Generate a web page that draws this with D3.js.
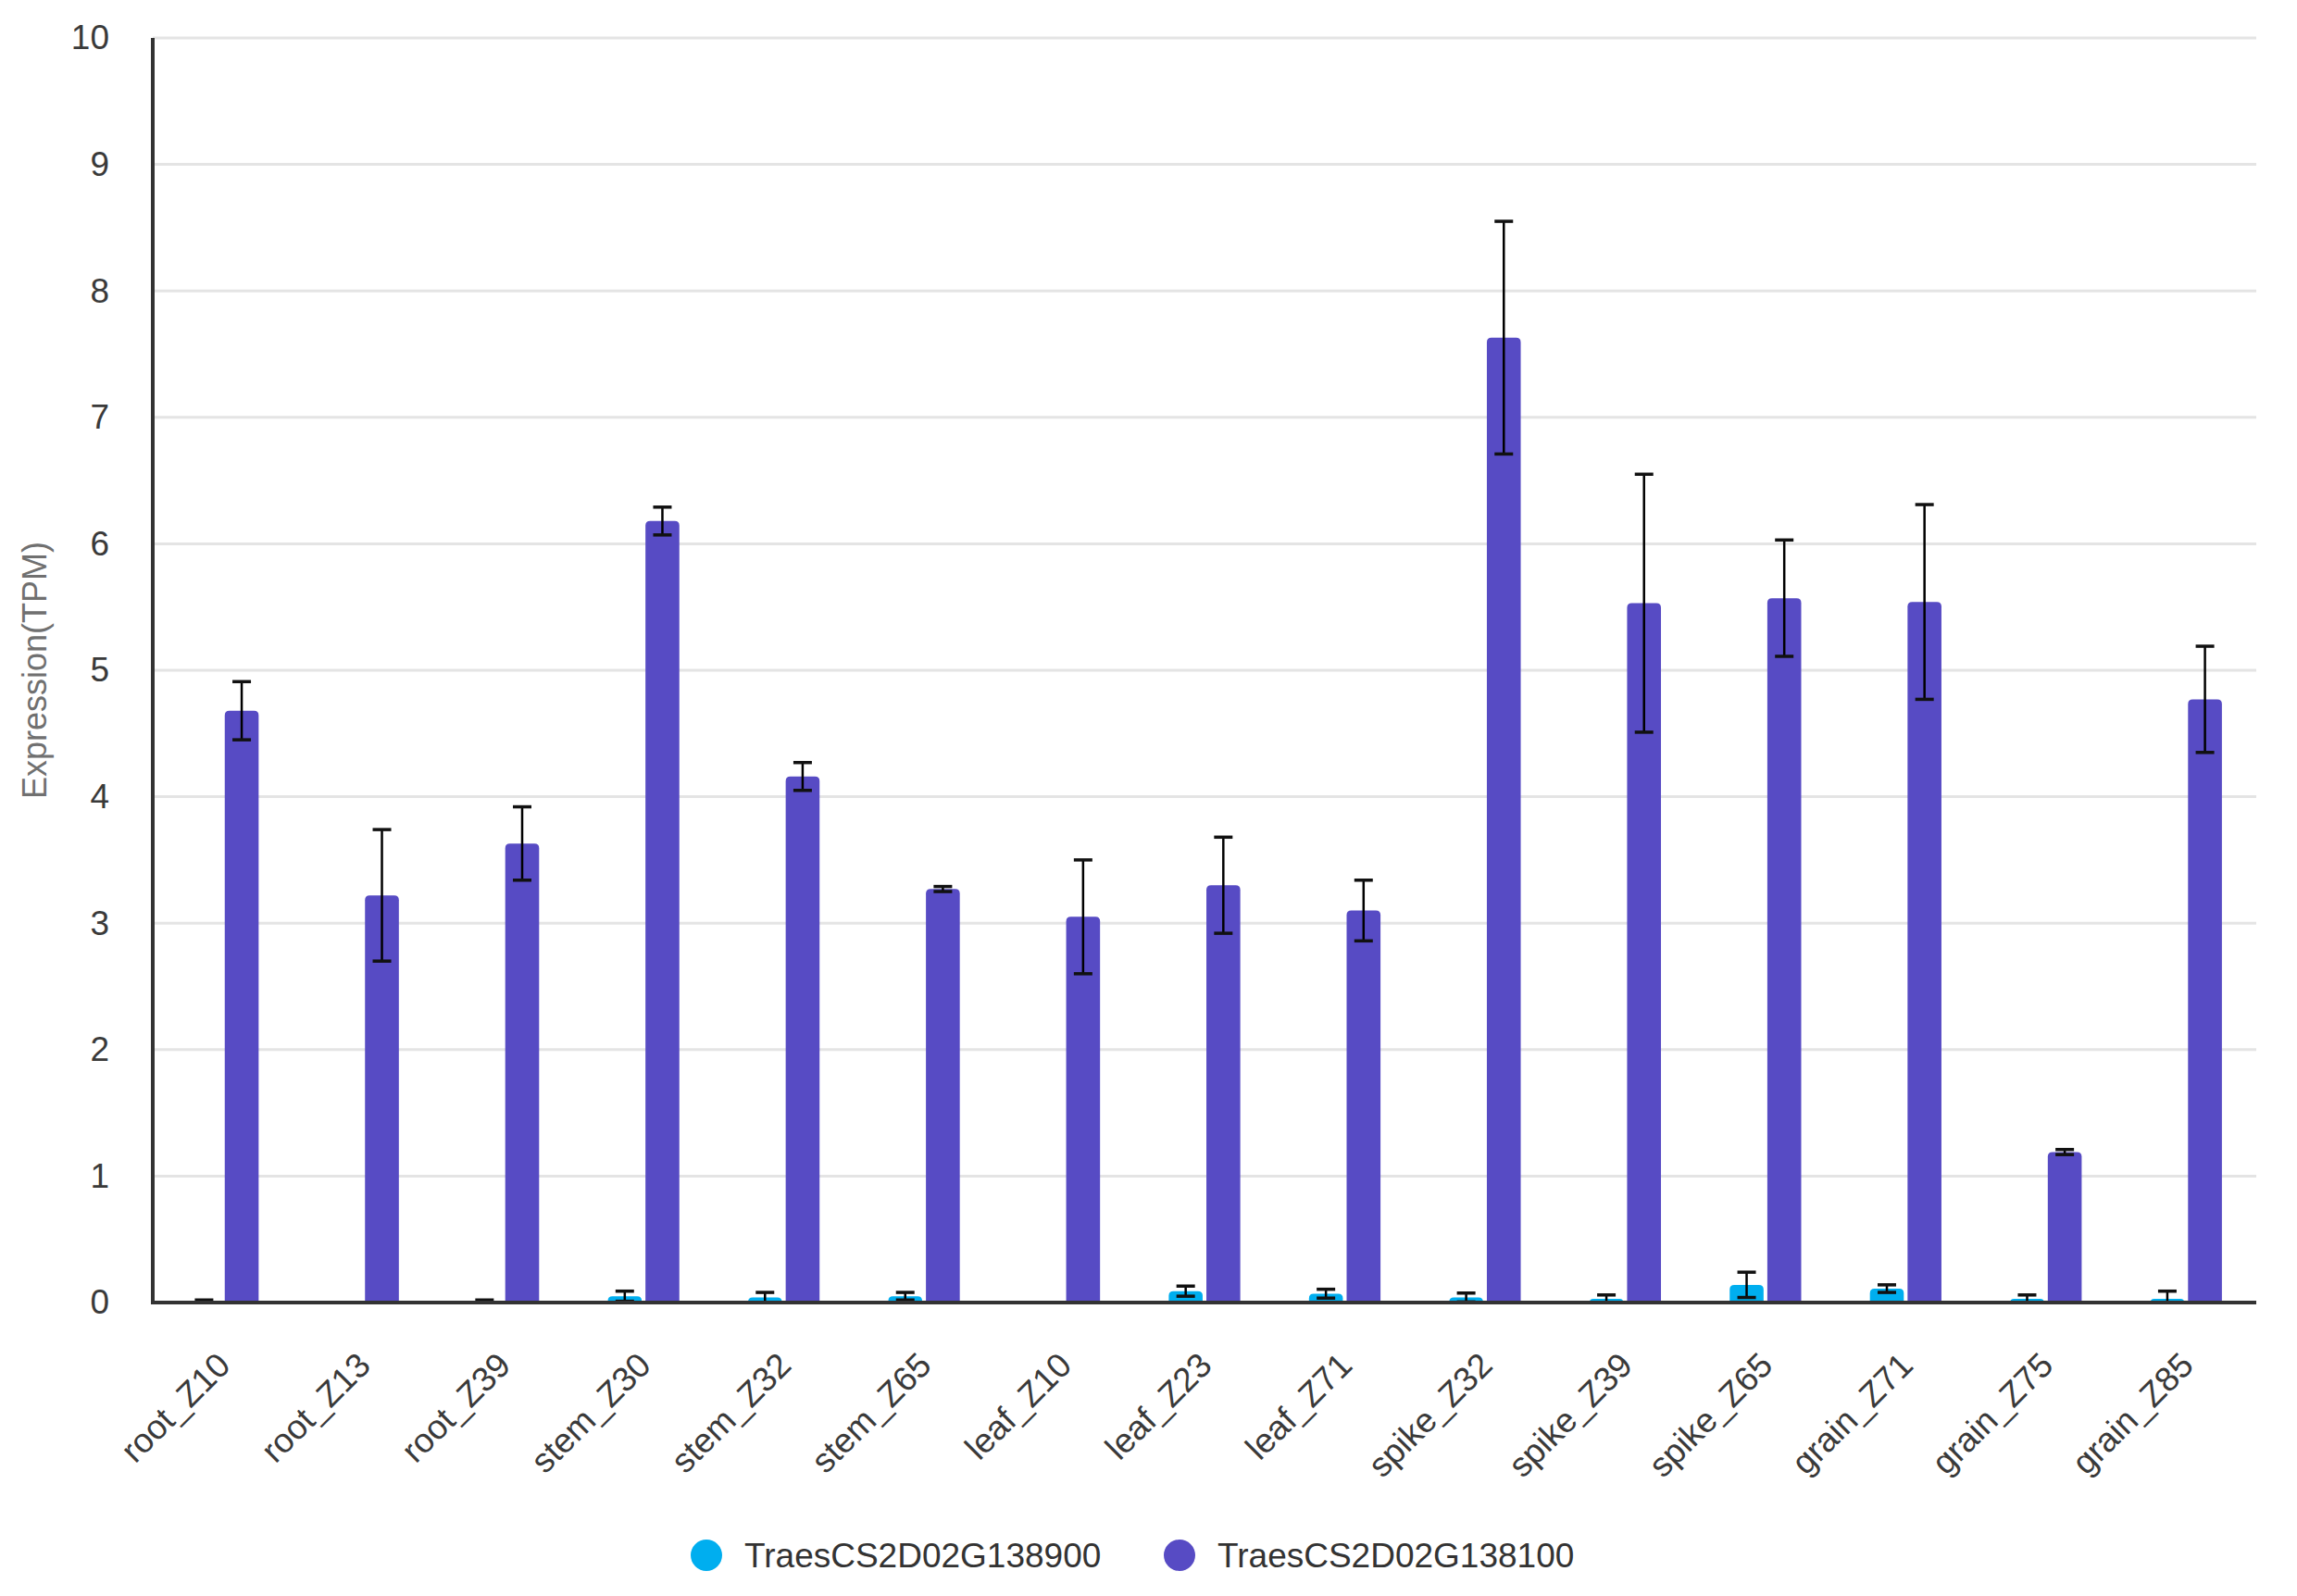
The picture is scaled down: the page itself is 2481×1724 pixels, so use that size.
<!DOCTYPE html>
<html lang="en">
<head>
<meta charset="UTF-8">
<title>Expression (TPM)</title>
<script src="https://d3js.org/d3.v7.min.js"></script>
<style>
  html, body { margin: 0; padding: 0; background: #fff; }
  body { font-family: "Liberation Sans", Arial, sans-serif; }
</style>
</head>
<body>
<svg id="chart" width="2481" height="1724"></svg>
<script>
// data
const categories = ["root_Z10", "root_Z13", "root_Z39", "stem_Z30", "stem_Z32", "stem_Z65",
  "leaf_Z10", "leaf_Z23", "leaf_Z71", "spike_Z32", "spike_Z39", "spike_Z65",
  "grain_Z71", "grain_Z75", "grain_Z85"];
const seriesNames = ["TraesCS2D02G138900", "TraesCS2D02G138100"];
const values138900 = [0.01, 0, 0.01, 0.05, 0.04, 0.05, 0, 0.09, 0.07, 0.04, 0.03, 0.14, 0.11, 0.03, 0.03];
const errors138900 = [0.01, 0, 0.01, 0.04, 0.04, 0.03, 0, 0.04, 0.035, 0.035, 0.03, 0.10, 0.03, 0.03, 0.06];
const values138100 = [4.68, 3.22, 3.63, 6.18, 4.16, 3.27, 3.05, 3.30, 3.10, 7.63, 5.53, 5.57, 5.54, 1.19, 4.77];
const errors138100 = [0.23, 0.52, 0.29, 0.11, 0.11, 0.02, 0.45, 0.38, 0.24, 0.92, 1.02, 0.46, 0.77, 0.02, 0.42];
const yTicks = [0, 1, 2, 3, 4, 5, 6, 7, 8, 9, 10];
const colors = ["#00aeef", "#574bc4"];

const rows = [];
categories.forEach((c, i) => {
  rows.push({ cat: c, s: 0, v: values138900[i], e: errors138900[i] });
  rows.push({ cat: c, s: 1, v: values138100[i], e: errors138100[i] });
});

const svg = d3.select("#chart");
const plotLeft = 165, plotRight = 2437, plotTop = 41, plotBottom = 1407;

const x0 = d3.scaleBand().domain(categories).range([plotLeft, plotRight])
  .paddingInner(0.49).paddingOuter(0.245);
const x1 = d3.scaleBand().domain([0, 1]).range([0, x0.bandwidth()]).paddingInner(0.1);
const y = d3.scaleLinear().domain([0, 10]).range([plotBottom, plotTop]);

// gridlines
svg.append("g")
  .selectAll("line")
  .data(yTicks.filter(t => t > 0))
  .join("line")
  .attr("x1", plotLeft).attr("x2", plotRight)
  .attr("y1", d => y(d)).attr("y2", d => y(d))
  .attr("stroke", "#e4e4e4").attr("stroke-width", 3);

// y tick labels
const yAxis = svg.append("g")
  .attr("transform", `translate(${plotLeft},0)`)
  .call(d3.axisLeft(y).tickValues(yTicks).tickSize(0).tickPadding(47));
yAxis.select(".domain").remove();
yAxis.selectAll("text")
  .attr("font-family", "'Liberation Sans', Arial, sans-serif")
  .attr("font-size", 37).attr("fill", "#3a3a3a");

// rounded-top bar path
function barPath(xp, w, y0, y1) {
  const h = y0 - y1;
  if (h <= 0) return "";
  const r = Math.min(5, h, w / 2);
  return `M${xp},${y0}V${y1 + r}Q${xp},${y1} ${xp + r},${y1}H${xp + w - r}Q${xp + w},${y1} ${xp + w},${y1 + r}V${y0}Z`;
}

svg.append("g")
  .selectAll("path")
  .data(rows)
  .join("path")
  .attr("d", d => barPath(x0(d.cat) + x1(d.s), x1.bandwidth(), y(0), y(d.v)))
  .attr("fill", d => colors[d.s]);

// error bars
const eb = svg.append("g")
  .selectAll("g")
  .data(rows.filter(d => d.e > 0))
  .join("g")
  .attr("transform", d => `translate(${x0(d.cat) + x1(d.s) + x1.bandwidth() / 2},0)`);
eb.append("line")
  .attr("y1", d => y(d.v + d.e)).attr("y2", d => y(Math.max(0, d.v - d.e)))
  .attr("stroke", "#000").attr("stroke-width", 2.5);
eb.append("line")
  .attr("x1", -10).attr("x2", 10)
  .attr("y1", d => y(d.v + d.e)).attr("y2", d => y(d.v + d.e))
  .attr("stroke", "#111").attr("stroke-width", 3.5);
eb.append("line")
  .attr("x1", -10).attr("x2", 10)
  .attr("y1", d => y(Math.max(0, d.v - d.e))).attr("y2", d => y(Math.max(0, d.v - d.e)))
  .attr("stroke", "#111").attr("stroke-width", 3.5);

// axis lines
svg.append("line")
  .attr("x1", plotLeft).attr("x2", plotRight).attr("y1", plotBottom).attr("y2", plotBottom)
  .attr("stroke", "#333").attr("stroke-width", 4);
svg.append("line")
  .attr("x1", plotLeft).attr("x2", plotLeft).attr("y1", plotTop).attr("y2", plotBottom + 2)
  .attr("stroke", "#333").attr("stroke-width", 4);

// x labels, rotated
svg.append("g")
  .selectAll("text")
  .data(categories)
  .join("text")
  .attr("transform", d => `translate(${x0(d) + x0.bandwidth() / 2 + 10},${plotBottom + 70}) rotate(-45)`)
  .attr("text-anchor", "end")
  .attr("font-size", 37).attr("fill", "#3a3a3a")
  .text(d => d);

// y title
svg.append("text")
  .attr("transform", `translate(50,${(plotTop + plotBottom) / 2}) rotate(-90)`)
  .attr("text-anchor", "middle")
  .attr("font-size", 36).attr("fill", "#707070")
  .text("Expression(TPM)");

// legend
const legX = [763, 1274];
const leg = svg.append("g")
  .selectAll("g")
  .data(seriesNames)
  .join("g")
  .attr("transform", (d, i) => `translate(${legX[i]},1680)`);
leg.append("circle").attr("r", 17).attr("fill", (d, i) => colors[i]);
leg.append("text")
  .attr("x", 41).attr("dy", "0.35em")
  .attr("font-size", 37).attr("fill", "#333")
  .text(d => d);
</script>
</body>
</html>
